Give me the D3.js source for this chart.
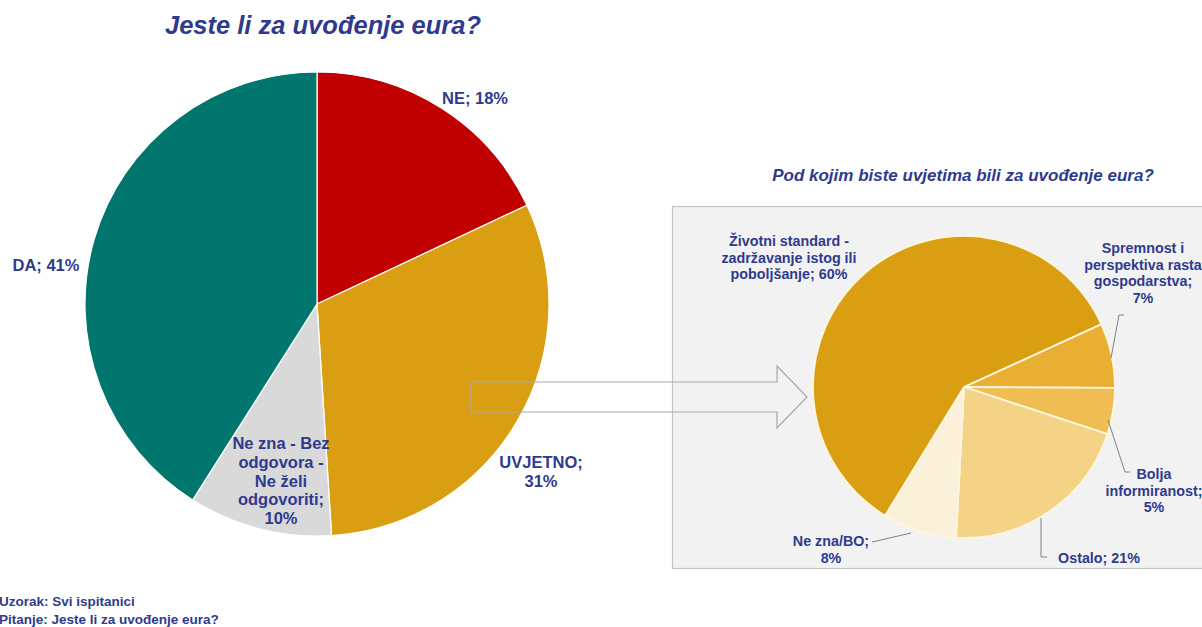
<!DOCTYPE html>
<html><head><meta charset="utf-8">
<script src="https://cdn.jsdelivr.net/npm/d3@7"></script>
<style>body{margin:0;background:#fff;}svg{display:block;font-family:"Liberation Sans",Arial,sans-serif;}</style>
</head><body>
<svg id="c" width="1202" height="627"></svg>
<script>
// ---- data ----
const mainCategories = ["NE", "UVJETNO", "Ne zna - Bez odgovora - Ne želi odgovoriti", "DA"];
const mainValues = [18, 31, 10, 41];
const mainLabels = [["NE; 18%"], ["UVJETNO;", "31%"], ["Ne zna - Bez", "odgovora -", "Ne želi", "odgovoriti;", "10%"], ["DA; 41%"]];

const subCategories = ["Spremnost i perspektiva rasta gospodarstva", "Bolja informiranost", "Ostalo", "Ne zna/BO", "Životni standard - zadržavanje istog ili poboljšanje"];
const subValues = [7, 5, 21, 8, 60];
const subLabels = [["Spremnost i", "perspektiva rasta", "gospodarstva;", "7%"], ["Bolja", "informiranost;", "5%"], ["Ostalo; 21%"], ["Ne zna/BO;", "8%"], ["Životni standard -", "zadržavanje istog ili", "poboljšanje; 60%"]];

const title = "Jeste li za uvođenje eura?";
const subTitle = "Pod kojim biste uvjetima bili za uvođenje eura?";
const notes = ["Uzorak: Svi ispitanici", "Pitanje: Jeste li za uvođenje eura?"];

// ---- styles / layout ----
const mainColors = ["#C00000", "#D99E12", "#D9D9D9", "#00766F"];
const subColors = ["#E8AF33", "#EFBD52", "#F5D386", "#FBF1DA", "#D99E12"];
const textColor = "#2F3A8E";
const svg = d3.select("#c");
const deg = Math.PI / 180;

// titles
svg.append("text").attr("x", 323).attr("y", 34).attr("text-anchor", "middle")
  .attr("font-size", 25.5).attr("font-weight", "bold").attr("font-style", "italic")
  .attr("fill", textColor).text(title);

// sub box
svg.append("rect").attr("x", 672.5).attr("y", 206.5).attr("width", 540).attr("height", 362)
  .attr("fill", "#F2F2F2").attr("stroke", "#C4C4C4").attr("stroke-width", 1.2);

svg.append("text").attr("x", 963).attr("y", 181).attr("text-anchor", "middle")
  .attr("font-size", 17).attr("font-weight", "bold").attr("font-style", "italic")
  .attr("fill", textColor).text(subTitle);

// main pie
const mc = [317, 304], mr = 232;
const mainPie = d3.pie().sort(null).value(d => d)(mainValues);
const mainArc = d3.arc().innerRadius(0).outerRadius(mr);
const gm = svg.append("g").attr("transform", `translate(${mc})`);
gm.selectAll("path").data(mainPie).join("path")
  .attr("d", mainArc).attr("fill", (d, i) => mainColors[i])
  .attr("stroke", "#fff").attr("stroke-width", 1.2);

// sub pie
const sc = [964, 387], sr = 151;
const subPie = d3.pie().sort(null).value(d => d).startAngle(65.4 * deg).endAngle(425.4 * deg)(subValues);
const subArc = d3.arc().innerRadius(0).outerRadius(sr);
const gs = svg.append("g").attr("transform", `translate(${sc})`);
gs.selectAll("path").data(subPie).join("path")
  .attr("d", subArc).attr("fill", (d, i) => subColors[i])
  .attr("stroke", "#FFF6E0").attr("stroke-width", 1.8);

// arrow (outline)
const ax0 = 471, ax1 = 807, ay = 397, shaftH = 15, headH = 31, headX = 777;
svg.append("path").attr("d",
  `M${ax0},${ay - shaftH}L${headX},${ay - shaftH}L${headX},${ay - headH}L${ax1},${ay}L${headX},${ay + headH}L${headX},${ay + shaftH}L${ax0},${ay + shaftH}Z`)
  .attr("fill", "none").attr("stroke", "#A8A8A8").attr("stroke-width", 1.2);

// label helper
function label(lines, x, y, size, lh, anchor) {
  const t = svg.append("text").attr("x", x).attr("y", y).attr("text-anchor", anchor || "middle")
    .attr("font-size", size).attr("font-weight", "bold").attr("fill", textColor);
  lines.forEach((l, i) => t.append("tspan").attr("x", x).attr("dy", i ? lh : 0).text(l));
}
// main labels
const mainPos = [[475, 104], [541, 468], [281, 449], [46, 271]];
mainLabels.forEach((l, i) => label(l, mainPos[i][0], mainPos[i][1], 16.5, 18.8));

// sub labels
const subPos = [[1143, 253], [1154, 479], [1099, 563], [831, 546], [789, 246]];
subLabels.forEach((l, i) => label(l, subPos[i][0], subPos[i][1], 14.3, 16.5));

// leader lines
const leaders = [
  [[1124, 315], [1119, 315], [1111, 358]],
  [[1108, 420], [1125, 472], [1130, 472]],
  [[1041, 518], [1041, 557], [1047, 557]],
  [[872, 542], [911, 533]]
];
const line = d3.line();
leaders.forEach(p => svg.append("path").attr("d", line(p)).attr("fill", "none")
  .attr("stroke", "#808080").attr("stroke-width", 1));

// notes
notes.forEach((n, i) => svg.append("text").attr("x", -1).attr("y", 606 + i * 18)
  .attr("font-size", 13.5).attr("font-weight", "bold").attr("fill", textColor).text(n));
</script>
</body></html>
